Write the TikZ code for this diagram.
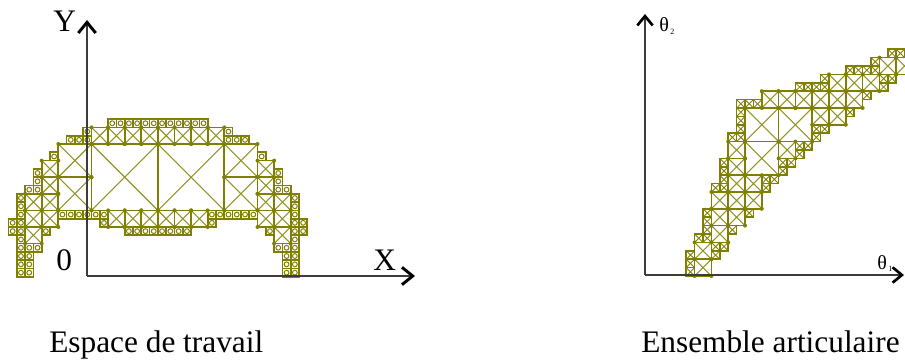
\documentclass[tikz,border=0pt]{standalone}
\usepackage{fontspec}
\setmainfont{Liberation Serif}
\usetikzlibrary{arrows.meta}
\definecolor{olv}{RGB}{128,128,0}
\definecolor{axc}{RGB}{60,60,60}
% X box: col,row,size (scope units)
\newcommand\XB[3]{%
  \draw[cl] (#1,#2) rectangle ++(#3,#3);
  \draw[dg] (#1,#2) -- ++(#3,#3) ({#1+#3},#2) -- ++(-#3,#3);
  \fill[olv] (#1,#2) circle[radius=1.5pt] ({#1+#3},#2) circle[radius=1.5pt]
    (#1,{#2+#3}) circle[radius=1.5pt] ({#1+#3},{#2+#3}) circle[radius=1.5pt];}
% tiny cell with circle
\newcommand\TC[2]{%
  \draw[cl] (#1,#2) rectangle ++(1,1);
  \draw[olv, line width=0.75pt] ({#1+0.5},{#2+0.5}) circle[radius=1.8pt];}
% tiny cell with cross
\newcommand\TX[2]{%
  \draw[cl] (#1,#2) rectangle ++(1,1);
  \draw[olv, line width=0.65pt] (#1,#2) -- ++(1,1) ({#1+1},#2) -- ++(-1,1);}
% mirrored versions (left diagram symmetric about col 8)
\newcommand\XBm[3]{\XB{#1}{#2}{#3}\pgfmathtruncatemacro\mcol{16-(#1)-(#3)}\XB{\mcol}{#2}{#3}}
\newcommand\TCm[2]{\TC{#1}{#2}\pgfmathtruncatemacro\mcol{15-(#1)}\TC{\mcol}{#2}}
\begin{document}
\begin{tikzpicture}[x=0.75pt,y=-0.75pt,
  cl/.style={draw=olv, line width=1.25pt},
  dg/.style={draw=olv!85, line width=0.8pt},
  axl/.style={draw=axc, line width=1.5pt,
    -{Straight Barb[length=8pt,width=13pt,line width=2.2pt,color=black]}},
  axr/.style={draw=axc, line width=1.5pt,
    -{Straight Barb[length=7pt,width=11.5pt,line width=2pt,color=black]}},
  lbl/.style={font=\fontsize{23.5}{26}\selectfont, inner sep=0pt, anchor=base west},
  th/.style={font=\fontsize{15}{17}\selectfont, inner sep=0pt, anchor=base west},
  sb/.style={font=\fontsize{6}{7}\selectfont, inner sep=0pt, anchor=base west},
  ]
\useasboundingbox (0,0) rectangle (905,360);

% ---------------- left diagram: workspace ----------------
\begin{scope}[shift={(91.5,144)}, x=6.225pt, y=-6.225pt]
  \foreach \c in {2,...,7} {\TCm{\c}{-3}}
  \foreach \c/\r in {-1/-2,-1/-1,-3/-1,-2/-1,-5/1,-7/3,-7/4,-8/5,-7/5,
      -10/9,-10/10,-7/12,-4/8,-3/8,-2/8,-1/8,0/8,1/8,1/9,-6/10,
      4/10,5/10,6/10,7/10} {\TCm{\c}{\r}}
  \foreach \r in {6,...,15} {\TCm{-9}{\r}}
  \foreach \r in {12,...,15} {\TCm{-8}{\r}}
  \foreach \c/\r/\s in {0/-2/2,2/-2/2,4/-2/2,6/-2/2,-4/0/4,-4/4/4,
      -6/2/2,-6/4/2,-6/6/2,-8/6/2,-8/8/2,-8/10/2,-6/8/2,
      2/8/2,4/8/2,6/8/2} {\XBm{\c}{\r}{\s}}
  \XB{0}{0}{8}
  \XB{8}{0}{8}
\end{scope}

% ---------------- right diagram: joint space ----------------
\begin{scope}[shift={(745,108)}, x=6.3pt, y=-6.3pt]
  \foreach \c/\r in {-7/17,-7/18,-7/19,-6/15,-5/15,-5/14,-5/13,-5/12,
      -4/16,-3/16,-4/17,-2/14,0/12,-4/9,-3/9,-3/8,-3/7,-3/6,
      -2/3,-1/3,-1/0,-1/1,-1/2,-1/-1,0/-1,1/-1,2/8,3/8,2/9,
      6/4,7/4,6/5,4/6,5/6,4/7,14/-2,6/-3,7/-3,8/-3,9/-4,9/-3,
      12/-5,13/-5,14/-5,15/-6,15/-5,17/-7,18/-7,19/-7,
      16/-4,17/-4,16/-3,12/0,8/2,9/2,8/3} {\TX{\c}{\r}}
  \foreach \c/\r/\s in {-6/18/2,-6/16/2,-4/14/2,-4/12/2,-4/10/2,
      -2/12/2,-2/10/2,-2/8/2,-2/6/2,-2/4/2,0/8/2,0/10/2,4/4/2,
      2/-2/2,4/-2/2,6/-2/2,8/-2/2,10/-2/2,12/-2/2,
      10/-4/2,12/-4/2,14/-4/2,16/-6/2,18/-6/2,8/0/2,10/0/2,
      0/0/4,0/4/4,4/0/4} {\XB{\c}{\r}{\s}}
\end{scope}

% ---------------- axes ----------------
\coordinate (oL) at (87,276);
\coordinate (yL) at (87,20);
\coordinate (xL) at (415,276);
\draw[axl] (oL) -- (yL);
\draw[axl] (oL) -- (xL);
\coordinate (oR) at (645,275);
\coordinate (yR) at (645,14);
\coordinate (xR) at (904,275);
\draw[axr] (oR) -- (yR);
\draw[axr] (oR) -- (xR);

% ---------------- labels ----------------
\node[lbl] (lY) at (53,32) {Y};
\node[lbl] (l0) at (56,270) {0};
\node[lbl] (lX) at (373,270) {X};
\node[th] (t2) at (659,32) {θ};
\node[sb] (t2s) at (670,35) {2};
\node[th] (t1) at (877,269) {θ};
\node[sb] (t1s) at (888,271) {1};
\node[lbl] (cL) at (49,352) {Espace de travail};
\node[lbl] (cR) at (641,352) {Ensemble articulaire};
\end{tikzpicture}
\end{document}
